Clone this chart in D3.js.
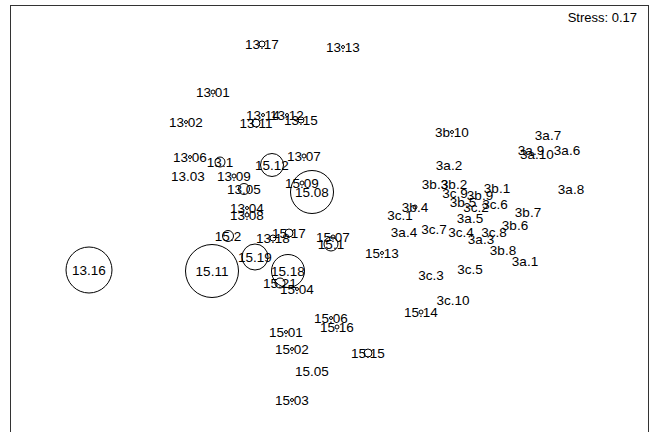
<!DOCTYPE html>
<html>
<head>
<meta charset="utf-8">
<script src="https://cdn.jsdelivr.net/npm/d3@7"></script>
<style>
  body { margin: 0; background: white; }
  text { font-family: "Liberation Sans", Arial, sans-serif; }
</style>
</head>
<body>
<div id="chart"></div>
<script>
let width = 649;
let height = 432;

// site labels and NMDS scores
let labels = ["13.17","13.13","13.01","13.02","13.14","13.12","13.15","13.11","13.06","13.1",
  "15.12","13.07","13.03","13.09","13.05","15.09","15.08","13.04","13.08","15.2",
  "13.18","15.17","15.07","15.1","13.16","15.11","15.19","15.18","15.21","15.04",
  "15.13","15.06","15.16","15.01","15.02","15.15","15.05","15.03","15.14",
  "3b.10","3a.7","3a.9","3a.10","3a.6","3a.2","3a.8","3b.3","3b.2","3b.1",
  "3c.9","3b.9","3b.5","3c.6","3c.2","3b.4","3c.1","3a.5","3b.7","3b.6",
  "3a.4","3c.7","3c.4","3c.8","3a.3","3b.8","3a.1","3c.3","3c.5","3c.10"];

let nmds1 = [-0.315,0.09,-0.56,-0.695,-0.31,-0.19,-0.12,-0.345,-0.675,-0.525,
  -0.265,-0.105,-0.685,-0.455,-0.405,-0.115,-0.065,-0.39,-0.39,-0.485,
  -0.26,-0.18,0.04,0.03,-1.18,-0.565,-0.35,-0.185,-0.225,-0.14,
  0.285,0.03,0.06,-0.195,-0.165,0.215,-0.065,-0.165,0.48,
  0.635,1.115,1.03,1.06,1.21,0.62,1.23,0.55,0.645,0.86,
  0.65,0.775,0.69,0.85,0.755,0.45,0.375,0.725,1.015,0.95,
  0.395,0.545,0.68,0.845,0.78,0.89,1.0,0.53,0.725,0.64];

let nmds2 = [0.93,0.915,0.69,0.54,0.575,0.575,0.55,0.535,0.365,0.34,
  0.325,0.37,0.27,0.27,0.205,0.235,0.19,0.11,0.075,-0.03,
  -0.04,-0.015,-0.035,-0.07,-0.2,-0.205,-0.135,-0.205,-0.265,-0.295,
  -0.115,-0.44,-0.485,-0.51,-0.595,-0.615,-0.705,-0.85,-0.41,
  0.49,0.475,0.4,0.38,0.4,0.325,0.205,0.23,0.23,0.21,
  0.185,0.175,0.14,0.13,0.115,0.115,0.075,0.06,0.09,0.025,
  -0.01,0.005,-0.01,-0.01,-0.045,-0.1,-0.155,-0.225,-0.195,-0.35];

// bubble size per site
let sizes = [3,1.5,2,1.5,1.5,1.5,3,4,1.5,5,
  11.5,2,0,2,5.5,2,21.5,1.5,2,5.5,
  3,4,2,7,23,26.5,13,16.5,5,1.5,
  1.5,1.5,2,1.5,1.5,4,0,1.5,2,
  1.5,0,0,0,0,0,0,0,0,0,
  0,0,0,0,0,2,0,0,0,0,
  0,0,0,0,0,0,0,0,0,0];

let stress = 0.17;

let data = labels.map((d, i) => ({label: d, x: nmds1[i], y: nmds2[i], s: sizes[i]}));

let svg = d3.select("#chart").append("svg")
  .attr("width", width)
  .attr("height", height);

svg.append("rect")
  .attr("x", 0).attr("y", 0)
  .attr("width", width).attr("height", height)
  .attr("fill", "white");

let xScale = d3.scaleLinear().domain([-1.6, 1.6]).range([5, 645]);
let yScale = d3.scaleLinear().domain([-1.1, 1.1]).range([450, 10]);
let rScale = d3.scaleLinear().domain([0, 26.5]).range([0, 26.5]);

// plot frame
svg.append("rect")
  .attr("x", 10.5)
  .attr("y", 5.5)
  .attr("width", 638)
  .attr("height", 440)
  .attr("fill", "none")
  .attr("stroke", "#333")
  .attr("stroke-width", 1);

svg.selectAll("circle.bub")
  .data(data.filter(d => d.s > 0))
  .enter()
  .append("circle")
  .attr("class", "bub")
  .attr("cx", d => xScale(d.x))
  .attr("cy", d => yScale(d.y))
  .attr("r", d => rScale(d.s))
  .attr("fill", "none")
  .attr("stroke", "black")
  .attr("stroke-width", 1);

svg.selectAll("text.lab")
  .data(data)
  .enter()
  .append("text")
  .attr("class", "lab")
  .attr("x", d => xScale(d.x))
  .attr("y", d => yScale(d.y))
  .attr("dy", "0.36em")
  .attr("text-anchor", "middle")
  .attr("font-size", "13.5px")
  .attr("fill", "black")
  .text(d => d.label);

svg.append("text")
  .attr("x", 637)
  .attr("y", 22)
  .attr("text-anchor", "end")
  .attr("font-size", "13px")
  .text(`Stress: ${stress}`);
</script>
</body>
</html>
